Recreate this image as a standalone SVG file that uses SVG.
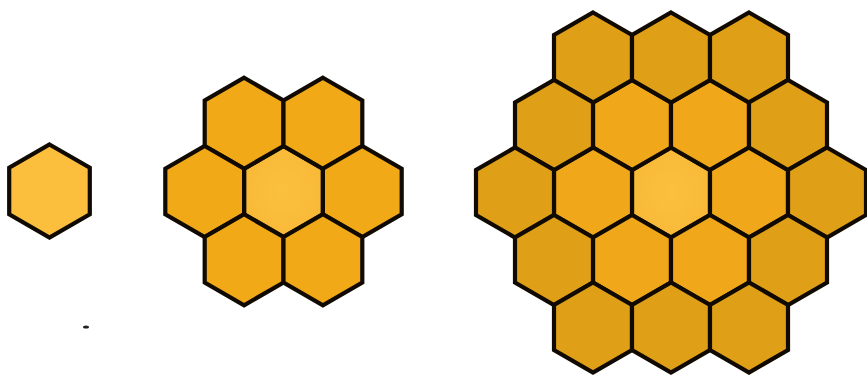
<svg xmlns="http://www.w3.org/2000/svg" width="867" height="377" viewBox="0 0 867 377">
  <style>
    .hex { stroke: #100a02; stroke-width: 4.2; stroke-linejoin: miter; }
    .c { fill: url(#gc); }
    .r1 { fill: #F0A81A; }
    .r2 { fill: #DF9F16; }
    .m1 { fill: #F1A918; }
    .s { fill: #FBBF3D; }
  </style>
  <defs>
    <radialGradient id="gc" cx="0.5" cy="0.5" r="0.6">
      <stop offset="0" stop-color="#FBC03F"/>
      <stop offset="1" stop-color="#F8B836"/>
    </radialGradient>
    <polygon id="hexS" points="0,-46.5 40.3,-23.25 40.3,23.25 0,46.5 -40.3,23.25 -40.3,-23.25"/>
    <polygon id="hexM" points="0,-45.5 39.4,-22.75 39.4,22.75 0,45.5 -39.4,22.75 -39.4,-22.75"/>
    <polygon id="hexL" points="0,-45 39,-22.5 39,22.5 0,45 -39,22.5 -39,-22.5"/>
  </defs>
  <rect width="867" height="377" fill="#ffffff"/>

  <g id="single">
    <g id="s1"><use href="#hexS" class="hex s" x="49.5" y="191"/></g>
  </g>

  <g id="medium">
    <g id="m-c"><use href="#hexM" class="hex c" x="283.5" y="191.5"/></g>
    <g id="m-1"><use href="#hexM" class="hex m1" x="244.1" y="123.25"/></g>
    <g id="m-2"><use href="#hexM" class="hex m1" x="322.9" y="123.25"/></g>
    <g id="m-3"><use href="#hexM" class="hex m1" x="204.7" y="191.5"/></g>
    <g id="m-4"><use href="#hexM" class="hex m1" x="362.3" y="191.5"/></g>
    <g id="m-5"><use href="#hexM" class="hex m1" x="244.1" y="259.75"/></g>
    <g id="m-6"><use href="#hexM" class="hex m1" x="322.9" y="259.75"/></g>
  </g>

  <g id="large">
    <g id="l-c"><use href="#hexL" class="hex c" x="671" y="192.5"/></g>
    <g id="l-r1a"><use href="#hexL" class="hex r1" x="632" y="125"/></g>
    <g id="l-r1b"><use href="#hexL" class="hex r1" x="710" y="125"/></g>
    <g id="l-r1c"><use href="#hexL" class="hex r1" x="593" y="192.5"/></g>
    <g id="l-r1d"><use href="#hexL" class="hex r1" x="749" y="192.5"/></g>
    <g id="l-r1e"><use href="#hexL" class="hex r1" x="632" y="260"/></g>
    <g id="l-r1f"><use href="#hexL" class="hex r1" x="710" y="260"/></g>
    <g id="l-r2a"><use href="#hexL" class="hex r2" x="593" y="57.5"/></g>
    <g id="l-r2b"><use href="#hexL" class="hex r2" x="671" y="57.5"/></g>
    <g id="l-r2c"><use href="#hexL" class="hex r2" x="749" y="57.5"/></g>
    <g id="l-r2d"><use href="#hexL" class="hex r2" x="554" y="125"/></g>
    <g id="l-r2e"><use href="#hexL" class="hex r2" x="788" y="125"/></g>
    <g id="l-r2f"><use href="#hexL" class="hex r2" x="515" y="192.5"/></g>
    <g id="l-r2g"><use href="#hexL" class="hex r2" x="827" y="192.5"/></g>
    <g id="l-r2h"><use href="#hexL" class="hex r2" x="554" y="260"/></g>
    <g id="l-r2i"><use href="#hexL" class="hex r2" x="788" y="260"/></g>
    <g id="l-r2j"><use href="#hexL" class="hex r2" x="593" y="327.5"/></g>
    <g id="l-r2k"><use href="#hexL" class="hex r2" x="671" y="327.5"/></g>
    <g id="l-r2l"><use href="#hexL" class="hex r2" x="749" y="327.5"/></g>
  </g>

  <ellipse cx="86" cy="327" rx="3" ry="1.6" fill="#222"/>
</svg>
